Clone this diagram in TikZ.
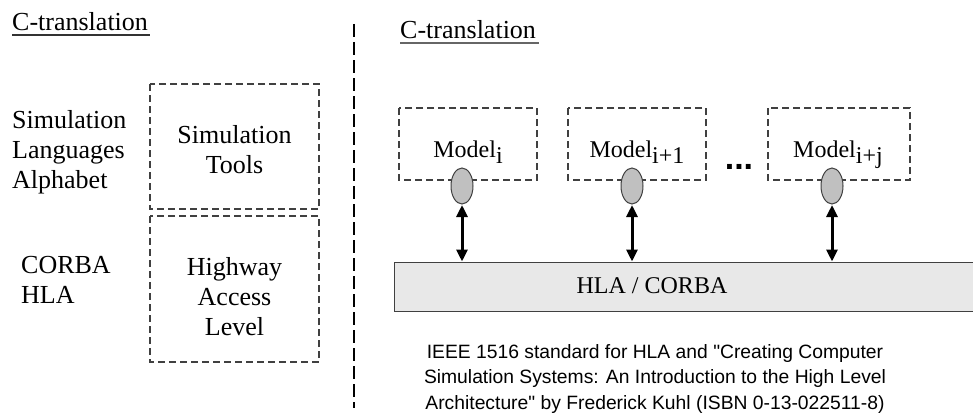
\documentclass[tikz,border=0pt]{standalone}
\usepackage{fontspec}
\setmainfont{Liberation Serif}
\newfontfamily\capfont{Liberation Sans}
\usetikzlibrary{arrows.meta,shapes.geometric}
\definecolor{boxgray}{HTML}{404040}
\definecolor{portfill}{HTML}{C0C0C0}
\definecolor{barfill}{HTML}{E8E8E8}
\tikzset{
  x=1pt, y=-1pt,
  dashbox/.style={draw=boxgray, line width=1.5pt, dash pattern=on 7pt off 4pt},
  lbl/.style={font=\fontsize{26}{30}\selectfont, align=left, inner sep=0pt, anchor=base west},
  boxtxt/.style={font=\fontsize{26}{30}\selectfont, align=center, inner sep=0pt},
  mdl/.style={font=\fontsize{24}{28}\selectfont, inner sep=0pt, anchor=base},
  port/.style={ellipse, draw=boxgray, line width=1pt, fill=portfill,
               minimum width=22pt, minimum height=36pt, inner sep=0pt},
  link/.style={line width=3pt, {Triangle[length=12pt,width=11pt]}-{Triangle[length=12pt,width=11pt]}, shorten <=0.5pt, shorten >=0.5pt},
}
\newcommand{\sbidx}[1]{\raisebox{-6pt}{#1}}
\begin{document}
\begin{tikzpicture}
\useasboundingbox (0,0) rectangle (973,412);
\clip (0,0) rectangle (973,412);

% ---- left panel ----
% (multi-line nodes are placed by the baseline of their last line)
\node[lbl] (hl) at (12,31) {C-translation};
\draw[line width=1.3pt, black!80] (12,35) -- (150,35);

\node[lbl, anchor=base west] (sl) at (12,188) {Simulation\\Languages\\Alphabet};
\node[lbl, anchor=base west] (ch) at (21,303) {CORBA\\HLA};

\draw[dashbox] (150,84) rectangle (319,209);
\node[boxtxt, anchor=base] (st) at (234.5,173) {Simulation\\Tools};
\draw[dashbox] (150,216) rectangle (319,362);
\node[boxtxt, anchor=base] (ha) at (234.5,335) {Highway\\Access\\Level};

% divider
\draw[line width=2pt, dash pattern=on 13pt off 5pt] (354,24) -- (354,408);

% ---- right panel ----
\node[lbl] (hr) at (400,38) {C-translation};
\draw[line width=2pt, black!60] (400,43) -- (539,43);

\draw[dashbox] (399,108) rectangle (537,180);
\draw[dashbox] (568,108) rectangle (706,180);
\draw[dashbox] (768,108) rectangle (910,180);

\node[mdl] (m1) at (468,157) {Model\sbidx{i}};
\node[mdl] (m2) at (637,157) {Model\sbidx{i+1}};
\node[mdl] (m3) at (838,157) {Model\sbidx{i+j}};

\node[font=\capfont\fontsize{34}{34}\selectfont\bfseries, inner sep=0pt, anchor=base] (dots) at (739,169) {...};

% runtime infrastructure bar
\node[draw=boxgray, line width=1.2pt, fill=barfill, minimum width=600pt, minimum height=49pt,
      anchor=north west, inner sep=0pt] (bar) at (394,262) {};
\node[mdl] (bt) at (652,293) {HLA / CORBA};

\node[port] (p1) at (462,186) {};
\node[port] (p2) at (632,186) {};
\node[port] (p3) at (832,186) {};

\draw[link] (p1.south) -- (p1.south |- bar.north);
\draw[link] (p2.south) -- (p2.south |- bar.north);
\draw[link] (p3.south) -- (p3.south |- bar.north);

% reference note
\node[font=\capfont\fontsize{19.3}{25.5}\selectfont, align=center, inner sep=0pt, anchor=base] (ref) at (655,409)
  {IEEE 1516 standard for HLA and "Creating Computer\\Simulation Systems: An Introduction to the High Level\\Architecture" by Frederick Kuhl (ISBN 0-13-022511-8)};
\end{tikzpicture}
\end{document}
